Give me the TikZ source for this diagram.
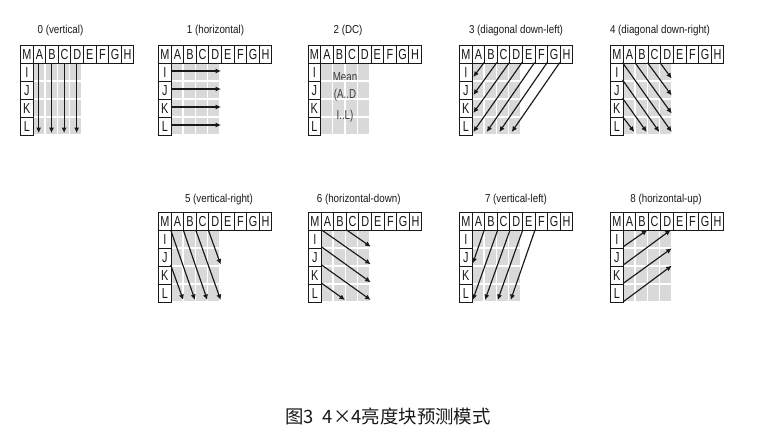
\documentclass[tikz,border=0pt]{standalone}
\usepackage{fontspec}
\setmainfont{Liberation Sans}
\newfontfamily\cjkfont{Noto Sans CJK SC}
\usetikzlibrary{arrows.meta}
\definecolor{ink}{gray}{0.1}
\definecolor{shade}{gray}{0.85}
\tikzset{
  x=1pt,y=-1pt,
  cellbox/.style={draw=ink,line width=1.05pt,inner sep=0pt,text=ink,anchor=north west,
    font=\fontsize{14.5}{14.5}\selectfont,text depth=0pt},
  headcell/.style={cellbox,minimum width=12.6pt,minimum height=17.5pt},
  sidecell/.style={cellbox,minimum width=12.6pt,minimum height=18.1pt},
  panelno/.style={text=ink,inner sep=0pt,font=\fontsize{11.5}{12}\selectfont},
  shadecell/.style={fill=shade,draw=none},
  predict/.style={draw=ink,line width=1.15pt,-{Latex[length=5.5pt,width=5.2pt]}},
  meanword/.style={text=ink!85,inner sep=0pt,font=\fontsize{13}{13}\selectfont},
  caption/.style={text=ink,inner sep=0pt,font=\cjkfont\fontsize{18.4}{20}\selectfont},
}
\newcommand{\nrw}[1]{\scalebox{0.75}[1]{#1}}
% #1 id, #2 left, #3 top, #4 title centre, #5 title
\newcommand{\predpanel}[5]{%
  \node[panelno] (t#1) at (#4) {\scalebox{0.85}[1]{#5}};
  \begin{scope}[shift={(#2,#3)}]
    \foreach \i in {0,1,2,3}{\foreach \j in {0,1,2,3}{
      \fill[shadecell] (13.2+12.4*\i,18.6+18*\j) rectangle ++(11,16.4);
    }}
    \foreach \l [count=\n from 0] in {M,A,B,C,D,E,F,G,H}{
      \node[headcell] (p#1h\l) at (12.6*\n,0) {\nrw{\l}};
    }
    \foreach \l [count=\n from 0] in {I,J,K,L}{
      \node[sidecell] (p#1s\l) at (0,17.5+18.1*\n) {\nrw{\l}};
    }
  \end{scope}}
% arrows of a panel in its own scope
\newcommand{\predarrows}[3]{%
  \begin{scope}[shift={(#1,#2)}]
    \foreach \a/\b/\c/\d in {#3}{
      \coordinate (from) at (\a,\b);
      \coordinate (to) at (\c,\d);
      \draw[predict] (from) -- (to);
    }
  \end{scope}}
\begin{document}
\begin{tikzpicture}
\useasboundingbox[fill=white] (0,0) rectangle (778,440);

\predpanel{0}{20}{45}{60.5,31}{0 (vertical)}
\predarrows{20}{45}{18.7/17.5/18.7/88, 31.5/17.5/31.5/88, 44.1/17.5/44.1/88, 56.7/17.5/56.7/88}

\predpanel{1}{158}{45}{215.5,31}{1 (horizontal)}
\predarrows{158}{45}{12.6/26/63/26, 12.6/44/63/44, 12.6/62/63/62, 12.6/80/63/80}

\predpanel{2}{307.5}{45}{348,31}{2 (DC)}
\node[meanword] (mean1) at (345,77.5) {\nrw{Mean}};
\node[meanword] (mean2) at (345,95) {\nrw{(A..D}};
\node[meanword] (mean3) at (345,116) {\nrw{I..L)}};
\begin{scope}[shift={(307.5,45)}]
  \fill[white] (13,34.6) rectangle ++(50,1);
\end{scope}

\predpanel{3}{459}{45}{516,31}{3 (diagonal down-left)}
\predarrows{459}{45}{25.2/17.5/14.3/32, 37.8/17.5/14.3/50, 50.4/17.5/14.3/68, 63/17.5/14.3/87,
  75.6/17.5/27.7/87, 88.2/17.5/40.3/87, 100.8/17.5/52.7/87}

\predpanel{4}{610}{45}{660,31}{4 (diagonal down-right)}
\predarrows{610}{45}{12.6/17.7/61.7/87, 25/17.7/61.7/68.5, 37.5/17.7/61.7/50.5, 50/17.7/61.7/33.5,
  12.6/35/49.3/87, 12.6/53.3/36.7/87, 12.6/71.7/24.3/87}

\predpanel{5}{158}{212}{219,199.5}{5 (vertical-right)}
\predarrows{158}{212}{12.7/18/37/88, 25.3/18/49.3/88, 37.7/18/62.7/88, 50.3/18/62.7/52.5, 12.7/53/25.3/88}

\predpanel{6}{308}{212}{358.7,199.5}{6 (horizontal-down)}
\predarrows{308}{212}{38.7/18/62.7/34.7, 13.7/18/62.7/52.3, 13.7/35/62.7/70.3, 13.7/53/62.7/88, 13.7/71.3/37/88}

\predpanel{7}{459}{212}{516,199.5}{7 (vertical-left)}
\predarrows{459}{212}{25.3/18/13.7/51.5, 38.7/18/13.7/88, 51/18/26/88, 63.7/18/38.7/88, 76/18/51.7/88}

\predpanel{8}{610}{212}{666,199.5}{8 (horizontal-up)}
\predarrows{610}{212}{13.3/34.7/37.3/18, 13.3/53/60.7/18, 13.3/71.3/61.7/36.3, 13.3/89.7/61.7/53.7}

\node[caption] (cap) at (388,416.5) {图3\hspace{9pt}4×4亮度块预测模式};
\end{tikzpicture}
\end{document}
